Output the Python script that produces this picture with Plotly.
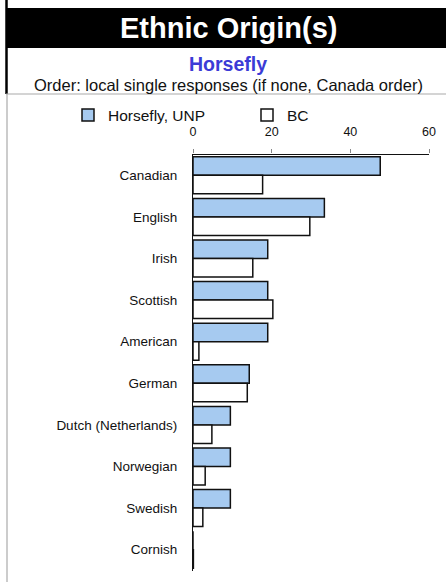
import plotly.graph_objects as go

categories = ["Canadian", "English", "Irish", "Scottish", "American", "German",
              "Dutch (Netherlands)", "Norwegian", "Swedish", "Cornish"]
horsefly_unp = [47.6, 33.4, 19.0, 19.0, 19.0, 14.3, 9.5, 9.5, 9.5, 0.0]
bc = [17.7, 29.7, 15.2, 20.3, 1.5, 13.8, 4.8, 3.1, 2.5, 0.1]
tick_vals = [0, 20, 40, 60]

W, H = 446, 582
FONT = "Liberation Sans, Arial, sans-serif"

def px(x):
    return x / W

def py(y):
    return 1 - y / H

fig = go.Figure()
fig.add_trace(go.Bar(
    y=categories, x=horsefly_unp, orientation="h", name="Horsefly, UNP",
    legend="legend",
    marker=dict(color="#a6caf0", line=dict(color="#111111", width=1.5)),
))
fig.add_trace(go.Bar(
    y=categories, x=bc, orientation="h", name="BC",
    legend="legend2",
    marker=dict(color="#ffffff", line=dict(color="#111111", width=1.5)),
))

fig.update_layout(
    width=W, height=H,
    margin=dict(l=0, r=0, t=0, b=0),
    paper_bgcolor="white", plot_bgcolor="white",
    barmode="group", bargap=0.11, bargroupgap=0.0,
    font=dict(family=FONT, size=13, color="#111111"),
    showlegend=True,
    legend=dict(x=px(68), y=py(98.5), orientation="h", yanchor="top", xanchor="left",
                font=dict(size=15.5, family=FONT, color="#111111"), itemwidth=30,
                bgcolor="rgba(0,0,0,0)", itemclick=False, itemdoubleclick=False),
    legend2=dict(x=px(247), y=py(98.5), orientation="h", yanchor="top", xanchor="left",
                 font=dict(size=15.5, family=FONT, color="#111111"), itemwidth=30,
                 bgcolor="rgba(0,0,0,0)", itemclick=False, itemdoubleclick=False),
    xaxis=dict(domain=[px(193), px(429)], range=[0, 60], side="top", automargin=False,
               tickvals=tick_vals, ticks="outside", ticklen=4, tickcolor="#888888",
               ticklabelstandoff=8,
               showgrid=False, zeroline=False, showline=True, linecolor="#111111",
               linewidth=1.2, tickfont=dict(size=12.5, family=FONT, color="#111111")),
    yaxis=dict(domain=[py(570.5), py(154.5)], autorange="reversed", automargin=False,
               showgrid=False, showline=True, linecolor="#111111", linewidth=1.2,
               ticks="", ticklabelstandoff=12,
               tickfont=dict(size=13.5, family=FONT, color="#111111")),
    shapes=[
        dict(type="rect", xref="paper", yref="paper", x0=px(6), x1=1.0,
             y0=py(48), y1=py(8), fillcolor="black", line=dict(width=0), layer="below"),
        dict(type="line", xref="paper", yref="paper", x0=px(6.5), x1=px(6.5),
             y0=py(94), y1=1.0, line=dict(color="black", width=2.5)),
        dict(type="line", xref="paper", yref="paper", x0=px(7), x1=px(7),
             y0=0, y1=py(94), line=dict(color="#aaaaaa", width=1.2)),
        dict(type="line", xref="paper", yref="paper", x0=px(6), x1=1.0,
             y0=py(94), y1=py(94), line=dict(color="#aaaaaa", width=1.2)),
    ],
    annotations=[
        dict(text="<b>Ethnic Origin(s)</b>", xref="paper", yref="paper",
             x=px(229), y=py(28), xanchor="center", yanchor="middle", showarrow=False,
             font=dict(size=29, color="white", family=FONT)),
        dict(text="<b>Horsefly</b>", xref="paper", yref="paper",
             x=px(228), y=py(64), xanchor="center", yanchor="middle", showarrow=False,
             font=dict(size=19.5, color="#3b3bd6", family=FONT)),
        dict(text="Order: local single responses (if none, Canada order)", xref="paper",
             yref="paper", x=px(228), y=py(85), xanchor="center", yanchor="middle",
             showarrow=False, font=dict(size=16.5, color="#111111", family=FONT)),
    ],
)

fig.write_html("out.html", config={"displayModeBar": False},
               post_script="document.body.style.margin='0';")
